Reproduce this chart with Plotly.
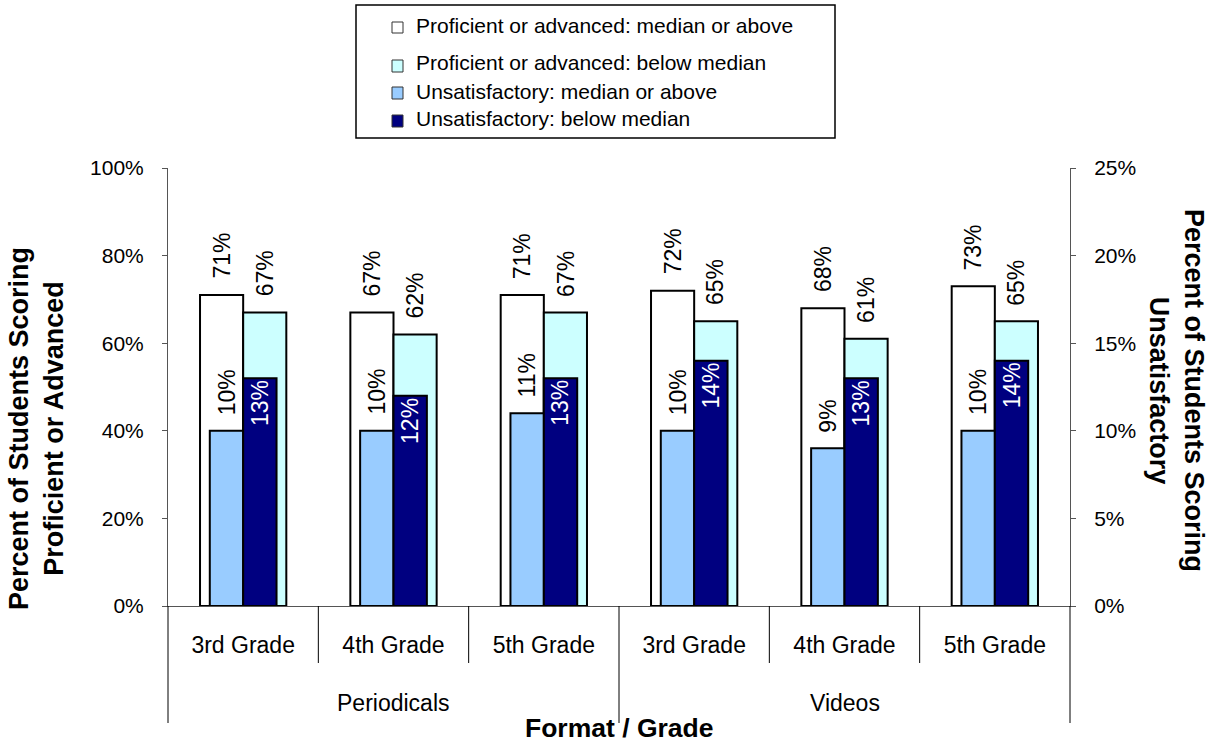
import plotly.graph_objects as go

# ---- data -------------------------------------------------------------
grades = ["3rd Grade", "4th Grade", "5th Grade", "3rd Grade", "4th Grade", "5th Grade"]
formats = ["Periodicals", "Videos"]
grades_per_format = 3

prof_above = [71, 67, 71, 72, 68, 73]     # left axis, %
prof_below = [67, 62, 67, 65, 61, 65]     # left axis, %
unsat_above = [10, 10, 11, 10, 9, 10]     # right axis, %
unsat_below = [13, 12, 13, 14, 13, 14]    # right axis, %

left_ticks = [0, 20, 40, 60, 80, 100]
right_ticks = [0, 5, 10, 15, 20, 25]

series_names = [
    "Proficient or advanced: median or above",
    "Proficient or advanced: below median",
    "Unsatisfactory: median or above",
    "Unsatisfactory: below median",
]
series_colors = ["#FFFFFF", "#CCFFFF", "#99CCFF", "#000080"]

# ---- geometry ---------------------------------------------------------
W, H = 1212, 743
ML, MR, MT, MB = 168, 142, 168, 137
PW, PH = W - ML - MR, H - MT - MB

FONT = "Liberation Sans, Arial, sans-serif"
AXIS_COLOR = "#555555"

xpos = list(range(len(grades)))
wide_w = 0.287     # proficient bars
narrow_w = 0.222   # unsatisfactory bars


def px_x(px):
    return (px - ML) / PW


def px_y(py):
    return (H - MB - py) / PH


fig = go.Figure()

bar_line = dict(color="#000000", width=2)
fig.add_trace(go.Bar(x=xpos, y=prof_above, width=wide_w, offset=-wide_w,
                     marker=dict(color=series_colors[0], line=bar_line),
                     name=series_names[0], showlegend=False, yaxis="y"))
fig.add_trace(go.Bar(x=xpos, y=prof_below, width=wide_w, offset=0,
                     marker=dict(color=series_colors[1], line=bar_line),
                     name=series_names[1], showlegend=False, yaxis="y"))
fig.add_trace(go.Bar(x=xpos, y=unsat_above, width=narrow_w, offset=-narrow_w,
                     marker=dict(color=series_colors[2], line=bar_line),
                     name=series_names[2], showlegend=False, yaxis="y2"))
fig.add_trace(go.Bar(x=xpos, y=unsat_below, width=narrow_w, offset=0,
                     marker=dict(color=series_colors[3], line=bar_line),
                     name=series_names[3], showlegend=False, yaxis="y2"))

annotations = []
LABEL_SIZE = 23
label_font = dict(family=FONT, size=LABEL_SIZE, color="#000000")

# value labels, rotated
for i, x in enumerate(xpos):
    annotations.append(dict(x=x - wide_w / 2, y=prof_above[i], xref="x", yref="y",
                            text=f"{prof_above[i]}%", textangle=-90, showarrow=False,
                            xanchor="center", yanchor="bottom", yshift=14, font=label_font))
    annotations.append(dict(x=x + wide_w / 2, y=prof_below[i], xref="x", yref="y",
                            text=f"{prof_below[i]}%", textangle=-90, showarrow=False,
                            xanchor="center", yanchor="bottom", yshift=14, font=label_font))
    annotations.append(dict(x=x - narrow_w / 2, y=unsat_above[i], xref="x", yref="y2",
                            text=f"{unsat_above[i]}%", textangle=-90, showarrow=False,
                            xanchor="center", yanchor="bottom", yshift=14, font=label_font))
    annotations.append(dict(x=x + narrow_w / 2, y=unsat_below[i], xref="x", yref="y2",
                            text=f"{unsat_below[i]}%", textangle=-90, showarrow=False,
                            xanchor="center", yanchor="top", yshift=0,
                            font=dict(family=FONT, size=LABEL_SIZE, color="#FFFFFF")))

# format (outer category) labels
for g, name in enumerate(formats):
    centre = g * grades_per_format + (grades_per_format - 1) / 2
    annotations.append(dict(x=centre, y=px_y(703), xref="x", yref="paper",
                            text=name, showarrow=False, xanchor="center", yanchor="middle",
                            font=dict(family=FONT, size=23, color="#000000")))

annotations.append(dict(x=0.5, y=px_y(728), xref="paper", yref="paper",
                        text="<b>Format / Grade</b>", showarrow=False,
                        xanchor="center", yanchor="middle",
                        font=dict(family=FONT, size=26.5, color="#000000")))
annotations.append(dict(x=px_x(36), y=px_y(429), xref="paper", yref="paper",
                        text="<b>Percent of Students Scoring<br>Proficient or Advanced</b>",
                        textangle=-90, showarrow=False, xanchor="center", yanchor="middle",
                        font=dict(family=FONT, size=27, color="#000000")))
annotations.append(dict(x=px_x(1177), y=px_y(390), xref="paper", yref="paper",
                        text="<b>Percent of Students Scoring<br>Unsatisfactory</b>",
                        textangle=90, showarrow=False, xanchor="center", yanchor="middle",
                        font=dict(family=FONT, size=27, color="#000000")))

shapes = []
# category dividers below the axis
n = len(grades)
for b in range(n + 1):
    outer = b % grades_per_format == 0
    bottom = 723 if outer else 663
    shapes.append(dict(type="line", xref="paper", yref="paper",
                       x0=b / n, x1=b / n, y0=0, y1=px_y(bottom),
                       line=dict(color="#000000", width=1)))

# legend box with swatches
shapes.append(dict(type="rect", xref="paper", yref="paper",
                   x0=px_x(356), x1=px_x(835), y0=px_y(5), y1=px_y(138),
                   line=dict(color="#000000", width=1.5), fillcolor="#FFFFFF"))
swatch_rows = [(22, 33), (60, 72), (87, 99), (115, 127)]
text_rows = [25, 63, 92, 118]
for k in range(len(series_names)):
    top, bot = swatch_rows[k]
    shapes.append(dict(type="rect", xref="paper", yref="paper",
                       x0=px_x(392), x1=px_x(403), y0=px_y(bot), y1=px_y(top),
                       line=dict(color="#333333", width=1), fillcolor=series_colors[k]))
    annotations.append(dict(x=px_x(414), y=px_y(text_rows[k]), xref="paper", yref="paper",
                            text=series_names[k], showarrow=False,
                            xanchor="left", yanchor="middle",
                            font=dict(family=FONT, size=21, color="#000000")))

fig.update_layout(
    width=W, height=H, autosize=False,
    margin=dict(l=ML, r=MR, t=MT, b=MB, pad=0),
    paper_bgcolor="#FFFFFF", plot_bgcolor="#FFFFFF",
    barmode="overlay",
    showlegend=False,
    font=dict(family=FONT, size=21, color="#000000"),
    xaxis=dict(range=[-0.5, n - 0.5], tickvals=xpos, ticktext=grades,
               showline=True, linecolor=AXIS_COLOR, linewidth=1,
               ticks="", showgrid=False, zeroline=False,
               tickfont=dict(family=FONT, size=23, color="#000000"),
               ticklabelstandoff=18),
    yaxis=dict(range=[0, 100], tickvals=left_ticks,
               ticktext=[f"{v}%" for v in left_ticks],
               showline=True, linecolor=AXIS_COLOR, linewidth=1,
               ticks="outside", ticklen=5, tickcolor=AXIS_COLOR,
               showgrid=False, zeroline=False,
               tickfont=dict(family=FONT, size=21, color="#000000"),
               ticklabelstandoff=14),
    yaxis2=dict(range=[0, 25], tickvals=right_ticks,
                ticktext=[f"{v}%" for v in right_ticks],
                overlaying="y", side="right",
                showline=True, linecolor=AXIS_COLOR, linewidth=1,
                ticks="outside", ticklen=5, tickcolor=AXIS_COLOR,
                showgrid=False, zeroline=False,
                tickfont=dict(family=FONT, size=21, color="#000000"),
                ticklabelstandoff=14),
    annotations=annotations,
    shapes=shapes,
)

fig.write_html("out.html")
